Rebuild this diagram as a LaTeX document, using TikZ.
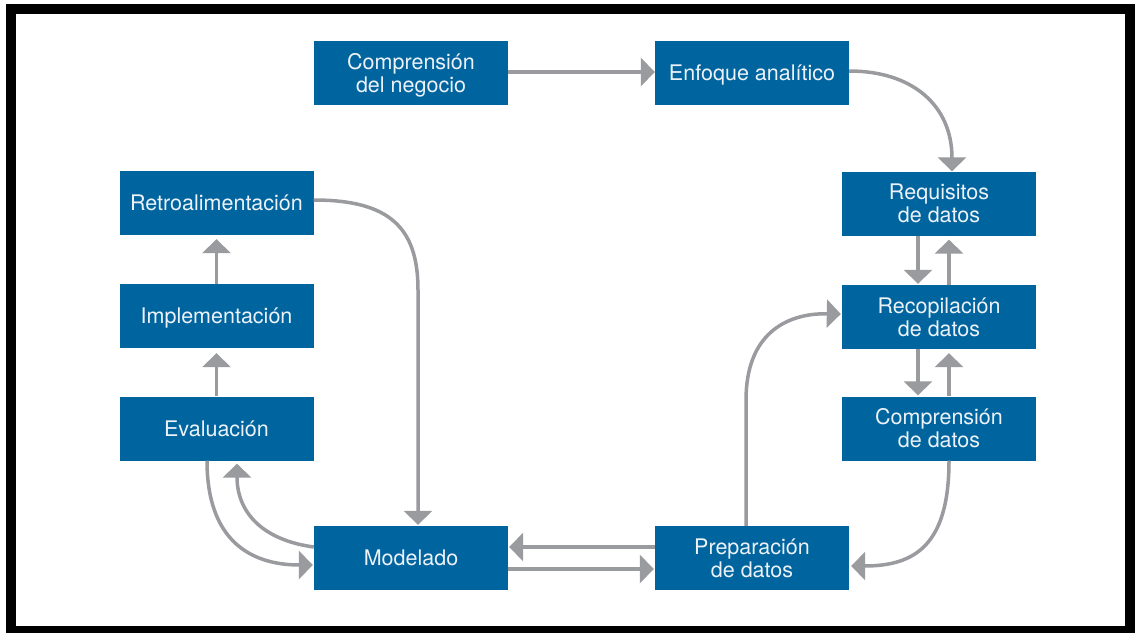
\documentclass[tikz,border=0pt]{standalone}
\usepackage{amsmath}
\usepackage{fontspec}
\setmainfont{TeX Gyre Heros}
\usetikzlibrary{arrows.meta}
\definecolor{boxblue}{RGB}{0,100,159}
\definecolor{arrgray}{RGB}{154,155,158}
\definecolor{txtwhite}{RGB}{236,242,248}
\tikzset{
  stagebox/.style={fill=boxblue, draw=none, minimum width=194pt, minimum height=64pt,
    inner sep=0pt, align=center, text=txtwhite, font=\fontsize{21.5}{23}\selectfont},
  arr/.style={draw=arrgray, line width=3.5pt, -{Triangle[width=28pt,length=14pt]}},
}
\begin{document}
\begin{tikzpicture}[x=1pt,y=-1pt]
\useasboundingbox (0,0) rectangle (1135,632);
\fill[white] (0,0) rectangle (1135,632);
\draw[line width=10pt, black] (11,9) rectangle (1130,631);

\node[stagebox] (cn) at (411,73) {Comprensión\\del \smash[b]{negocio}};
\node[stagebox] (ea) at (752,73) {\smash[b]{Enfoque} analítico};
\node[stagebox] (rq) at (939,203.5) {Requisitos\\de datos};
\node[stagebox] (rc) at (939,317) {Recopilación\\de datos};
\node[stagebox] (cd) at (939,428.5) {Comprensión\\de datos};
\node[stagebox] (pd) at (752,558) {Preparación\\de datos};
\node[stagebox] (mo) at (411,558) {Modelado};
\node[stagebox] (ev) at (216.5,428.5) {Evaluación};
\node[stagebox] (im) at (216.5,316) {\smash[b]{Implementación}};
\node[stagebox] (re) at (216.5,203) {Retroalimentación};

% top row
\draw[arr] ([yshift=1pt]cn.east) -- ([yshift=1pt]ea.west);
\draw[arr] ([yshift=2pt]ea.east) .. controls (912,71) and (952,105) .. ([xshift=13pt]rq.north);
% right column
\draw[arr, shorten >=1pt] ([xshift=-21pt]rq.south) -- ([xshift=-21pt]rc.north);
\draw[arr, shorten >=4pt] ([xshift=10pt]rc.north) -- ([xshift=10pt]rq.south);
\draw[arr, shorten >=1pt] ([xshift=-21pt]rc.south) -- ([xshift=-21pt]cd.north);
\draw[arr, shorten >=4pt] ([xshift=10pt]cd.north) -- ([xshift=10pt]rc.south);
% comprension datos -> preparacion
\draw[arr, shorten >=2pt] ([xshift=10pt]cd.south) .. controls (949,545) and (915,566) .. ([yshift=-8pt]pd.east);
% preparacion -> recopilacion
\draw[arr, shorten >=1pt] ([xshift=-6pt]pd.north) -- (746,400) .. controls (746,335) and (785,313) .. ([yshift=3pt]rc.west);
% preparacion <-> modelado
\draw[arr, shorten >=1pt] ([yshift=11pt]pd.west) -- ([yshift=11pt]mo.east);
\draw[arr, shorten >=1pt] ([yshift=-11pt]mo.east) -- ([yshift=-11pt]pd.west);
% modelado <-> evaluacion
\draw[arr, shorten >=3pt] ([yshift=11pt]mo.west) .. controls (262,540) and (237,512) .. ([xshift=20.5pt]ev.south);
\draw[arr, shorten >=1pt] ([xshift=-9.5pt]ev.south) .. controls (207,540) and (250,565) .. ([yshift=-7pt]mo.west);
% left column
\draw[arr, shorten >=5pt] (ev.north) -- (im.south);
\draw[arr, shorten >=4pt] (im.north) -- (re.south);
% retro -> modelado
\draw[arr, shorten >=1pt] ([yshift=3pt]re.east) .. controls (390,200) and (418,228) .. (418,290) -- ([xshift=7pt]mo.north);
\end{tikzpicture}
\end{document}
